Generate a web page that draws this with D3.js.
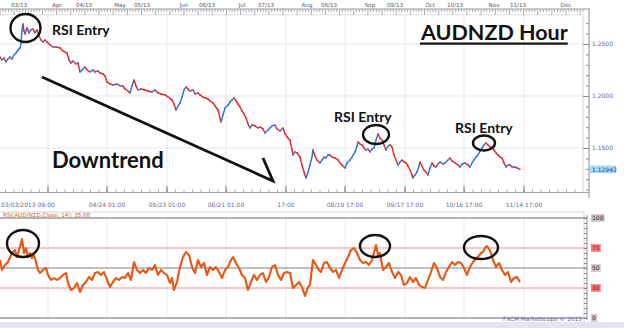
<!DOCTYPE html>
<html>
<head>
<meta charset="utf-8">
<script src="https://cdnjs.cloudflare.com/ajax/libs/d3/7.8.5/d3.min.js"></script>
<style>
    body { margin: 0; background: #fff; }
    svg { display: block; }
    .small { font-family: "DejaVu Sans", sans-serif; }
    .note { font-family: Lato, "Open Sans", sans-serif; font-weight: 700; fill: #111; }
</style>
</head>
<body>
<svg id="Chart_svg" width="624" height="328"></svg>
<script>
// hourly AUDNZD, t = session index along the time axis
var price = [
    [0, 1.2375], [1, 1.2346], [2, 1.2365], [3, 1.2327], [4, 1.2356], [5, 1.2375], [6, 1.2356], [7, 1.2394],
    [8, 1.2413], [9, 1.2442], [10, 1.2462], [10.5, 1.2500], [11, 1.2635], [11.5, 1.2692], [12, 1.2625], [12.5, 1.2596],
    [13.5, 1.2654], [14.5, 1.2606], [15.5, 1.2635], [16.5, 1.2644], [17.5, 1.2606], [18.5, 1.2635], [19.5, 1.2577],
    [20.5, 1.2538], [21.5, 1.2519], [22.5, 1.2538], [23.5, 1.2519], [25, 1.2490], [26.5, 1.2471], [28, 1.2471],
    [30, 1.2462], [31.5, 1.2433], [33.5, 1.2413], [34.5, 1.2346], [35.5, 1.2317], [36.5, 1.2336], [38, 1.2308],
    [39, 1.2317], [40, 1.2231], [41, 1.2250], [42.5, 1.2279], [43.5, 1.2250], [45, 1.2231], [46.5, 1.2250],
    [47.5, 1.2231], [49, 1.2240], [50, 1.2221], [51.5, 1.2212], [52.5, 1.2192], [53.5, 1.2135], [55, 1.2115],
    [56.5, 1.2106], [58.5, 1.2115], [60, 1.2096], [61.5, 1.2096], [62.5, 1.2067], [64, 1.2048], [65, 1.2029],
    [66, 1.2096], [67, 1.2154], [68, 1.2096], [69, 1.2058], [70.5, 1.2067], [72.5, 1.2058], [74, 1.2048],
    [76, 1.2038], [77.5, 1.2058], [79, 1.2029], [80.5, 1.2019], [82.5, 1.2010], [84, 1.1990], [86, 1.1962],
    [87, 1.1923], [88, 1.1865], [89, 1.1904], [90, 1.1933], [91, 1.1990], [92, 1.2058], [93, 1.2086], [94, 1.2067],
    [95, 1.2048], [96.5, 1.2058], [97.5, 1.2019], [99, 1.2029], [100, 1.2010], [101.5, 1.1990], [102.5, 1.1981],
    [104, 1.1971], [105, 1.1952], [106.5, 1.1933], [107.5, 1.1904], [109, 1.1865], [110.5, 1.1750], [111.5, 1.1817],
    [112.5, 1.1885], [114, 1.1913], [115, 1.1942], [116, 1.1962], [117, 1.1981], [118, 1.1952], [119, 1.1923],
    [120, 1.1894], [121, 1.1856], [122, 1.1827], [123, 1.1788], [124, 1.1731], [125, 1.1692], [126, 1.1721],
    [127.5, 1.1712], [129, 1.1692], [130, 1.1702], [131.5, 1.1683], [132.5, 1.1644], [134, 1.1673], [135, 1.1692],
    [136, 1.1712], [137.5, 1.1721], [138.5, 1.1683], [140, 1.1663], [141.5, 1.1692], [142.5, 1.1635], [144, 1.1596],
    [145, 1.1577], [146, 1.1481], [146.5, 1.1433], [147.5, 1.1462], [148.5, 1.1452], [150, 1.1413], [151, 1.1337],
    [152, 1.1269], [153, 1.1212], [154, 1.1269], [155, 1.1337], [156, 1.1413], [156.5, 1.1481], [157.5, 1.1423],
    [158.5, 1.1385], [160, 1.1356], [161, 1.1385], [162, 1.1413], [163, 1.1404], [164, 1.1433], [165, 1.1433],
    [166, 1.1413], [167.5, 1.1404], [169, 1.1385], [170, 1.1356], [171, 1.1337], [172.5, 1.1308], [173.5, 1.1356],
    [175, 1.1385], [176, 1.1413], [177.5, 1.1462], [178.5, 1.1519], [179, 1.1558], [180, 1.1538], [181, 1.1529],
    [182, 1.1500], [183, 1.1481], [184, 1.1490], [185, 1.1462], [186, 1.1490], [187, 1.1500], [188, 1.1577],
    [189, 1.1635], [190, 1.1596], [191, 1.1577], [192, 1.1529], [193, 1.1481], [194, 1.1519], [195, 1.1529],
    [196, 1.1510], [197, 1.1433], [198, 1.1385], [199, 1.1337], [200, 1.1365], [201, 1.1385], [202, 1.1365],
    [203, 1.1356], [204, 1.1327], [205, 1.1288], [206, 1.1240], [206.5, 1.1212], [207.5, 1.1240], [208.5, 1.1269],
    [209.5, 1.1327], [210, 1.1365], [211, 1.1327], [212, 1.1288], [213, 1.1269], [214, 1.1240], [215, 1.1308],
    [216, 1.1356], [217, 1.1327], [218, 1.1317], [219, 1.1346], [220, 1.1365], [221.5, 1.1346], [222.5, 1.1356],
    [224, 1.1385], [225, 1.1404], [226, 1.1375], [227.5, 1.1356], [229, 1.1337], [230, 1.1317], [231, 1.1346],
    [232.5, 1.1356], [234, 1.1337], [235, 1.1317], [236, 1.1356], [237, 1.1385], [238, 1.1413], [239, 1.1433],
    [240, 1.1471], [241, 1.1500], [242, 1.1529], [243, 1.1548], [244, 1.1529], [245, 1.1510], [246, 1.1500],
    [247, 1.1481], [248, 1.1452], [249, 1.1433], [250, 1.1413], [251, 1.1404], [252, 1.1356], [253, 1.1317],
    [254, 1.1337], [255, 1.1337], [256, 1.1317], [257.5, 1.1317], [258.5, 1.1308], [260, 1.12943]
];

var rsi = [
    [0, 58], [1, 48], [2.5, 53], [4, 56], [6, 65], [7.5, 68], [8.5, 61], [9.5, 68], [11, 79], [12, 65], [13, 70],
    [14, 61], [15, 65], [16, 60], [17, 63], [18, 56], [19, 48], [20, 45], [21.5, 48], [23, 50], [24, 43], [25.5, 38],
    [27, 40], [28.5, 38], [30, 40], [31.5, 43], [33, 45], [34, 35], [35.5, 28], [37, 30], [38.5, 35], [40, 26],
    [41.5, 33], [43, 36], [44.5, 41], [46, 38], [47.5, 45], [49, 46], [50.5, 43], [52, 46], [53.5, 38], [55, 31],
    [56.5, 36], [58, 40], [59.5, 38], [61, 41], [62.5, 40], [64, 45], [65.5, 38], [67, 56], [68.5, 48], [70, 45],
    [71.5, 48], [73, 45], [74.5, 50], [76, 48], [77.5, 53], [79, 43], [80.5, 48], [82, 45], [83.5, 43], [85, 35],
    [86, 40], [87, 28], [88.5, 36], [90, 51], [91.5, 61], [93, 66], [94.5, 63], [96, 51], [97.5, 45], [99, 58],
    [100.5, 51], [102, 55], [103.5, 43], [105, 51], [106.5, 48], [108, 51], [109.5, 46], [111, 40], [112.5, 48],
    [114, 51], [115.5, 58], [116.5, 61], [118, 55], [119.5, 50], [121, 43], [122.5, 40], [124, 28], [125.5, 36],
    [127, 43], [128.5, 38], [130, 43], [131.5, 45], [133, 36], [134.5, 41], [136, 51], [137.5, 53], [139, 43],
    [140.5, 38], [142, 45], [143.5, 46], [145, 45], [146.5, 30], [148, 33], [149.5, 36], [151, 31], [152.5, 22],
    [154, 31], [155, 33], [156.5, 58], [158, 53], [159.5, 48], [160.5, 46], [162, 55], [163.5, 56], [165, 50],
    [166.5, 46], [168, 48], [169.5, 40], [171, 48], [172.5, 55], [174, 61], [175.5, 68], [177, 70], [178.5, 65],
    [180, 58], [181.5, 55], [183, 56], [184.5, 53], [186, 58], [187, 65], [188, 73], [189, 63], [190, 65],
    [191.5, 48], [193, 51], [194.5, 55], [196, 46], [197.5, 40], [199, 46], [200.5, 43], [202, 33], [203.5, 35],
    [205, 41], [206.5, 36], [208, 40], [209.5, 33], [211, 31], [212.5, 30], [214, 38], [215.5, 46], [217, 55],
    [218.5, 50], [220, 41], [221.5, 38], [223, 46], [224.5, 51], [226, 56], [227.5, 53], [229, 56], [230.5, 55],
    [232, 50], [233.5, 43], [235, 51], [236.5, 56], [238, 60], [239, 61], [240.5, 65], [241.5, 66], [242.5, 70],
    [243.5, 72], [244.5, 69], [245.5, 65], [246.5, 58], [248, 51], [249.5, 55], [251, 48], [252.5, 43], [254, 46],
    [255.5, 36], [257, 40], [258.5, 41], [260, 35.68]
];

var gridTimes = [24, 53.5, 83.5, 113, 143, 172.5, 202.5, 232, 262];
var bottomLabels = ["", "04/24 01:00", "05/23 01:00", "06/21 01:00", "17:00", "08/19 17:00", "09/17 17:00", "10/16 17:00", "11/14 17:00"];
var firstLabel = "03/03/2013 09:00";
var topTimes = [9.5, 28.5, 42, 60, 71, 92, 103.5, 121, 133, 153.5, 164.5, 185, 197.5, 215, 227.5, 247, 259, 283];
var topLabels = ["03/13", "Apr", "04/13", "May", "05/13", "Jun", "06/13", "Jul", "07/13", "Aug", "08/13", "Sep", "09/13", "Oct", "10/13", "Nov", "11/13", "Dec"];
var priceTicks = [1.15, 1.20, 1.25];
var rsiLevels = [100, 70, 50, 30, 0];
var lastPrice = 1.12943;
var rsiTitle = "RSI(AUD/NZD,Close, 14): 35.68";

var svg = d3.select("#Chart_svg"),
    plotRight = 583,
    axisX = 589;

var x = d3.scaleLinear().domain([0, 291.5]).range([0, plotRight]),
    yPrice = d3.scaleLinear().domain([1.1077, 1.2788]).range([192, 14]),
    yRsi = d3.scaleLinear().domain([0, 100]).range([318, 218]);

// frame
svg.append("rect").attr("x", 0).attr("y", 322).attr("width", 624).attr("height", 6).attr("fill", "#e4e4f0");
svg.append("line").attr("x1", plotRight).attr("x2", plotRight).attr("y1", 15).attr("y2", 193).attr("stroke", "#d4d4dc");
svg.append("line").attr("x1", 0).attr("x2", plotRight).attr("y1", 15).attr("y2", 15).attr("stroke", "#e2e2e8");
svg.append("path").attr("d", "M0,212H" + (plotRight + 1) + "V322").attr("fill", "none").attr("stroke", "#d0d0da");

// grid
svg.selectAll(".vgrid").data(gridTimes).enter().append("path")
    .attr("class", "vgrid")
    .attr("d", function (d) { return "M" + x(d) + ",15V192M" + x(d) + ",218V318"; })
    .attr("stroke", "#e8e8ec");

svg.selectAll(".hgrid").data(priceTicks).enter().append("line")
    .attr("x1", 0).attr("x2", plotRight)
    .attr("y1", function (d) { return yPrice(d); })
    .attr("y2", function (d) { return yPrice(d); })
    .attr("stroke", "#e8e8ec");

// top time axis
svg.append("line").attr("x1", 0).attr("x2", axisX + 1).attr("y1", 9).attr("y2", 9).attr("stroke", "#9a9aa4");
svg.selectAll(".ttick").data(d3.range(0, 291.5, 1.415)).enter().append("line")
    .attr("x1", function (d) { return x(d); })
    .attr("x2", function (d) { return x(d); })
    .attr("y1", 9)
    .attr("y2", function (d, i) { return i % 5 === 0 ? 15 : 12; })
    .attr("stroke", "#8a8a94").attr("stroke-width", 0.7);
svg.selectAll(".tlab").data(topLabels).enter().append("text")
    .attr("class", "small")
    .attr("x", function (d, i) { return x(topTimes[i]); })
    .attr("y", 6.5)
    .attr("text-anchor", "middle")
    .style("font-size", "5.6px")
    .attr("fill", "#555566")
    .text(function (d) { return d; });

// bottom time axis of price panel
svg.append("line").attr("x1", 0).attr("x2", axisX).attr("y1", 192.5).attr("y2", 192.5).attr("stroke", "#a0a0aa");
svg.selectAll(".btick").data(d3.range(2.75, 291.5, 4.25)).enter().append("line")
    .attr("x1", function (d) { return x(d); })
    .attr("x2", function (d) { return x(d); })
    .attr("y1", 192).attr("y2", 189.5)
    .attr("stroke", "#8a8a94").attr("stroke-width", 0.7);
svg.selectAll(".bmajor").data(gridTimes).enter().append("line")
    .attr("x1", function (d) { return x(d); })
    .attr("x2", function (d) { return x(d); })
    .attr("y1", 192).attr("y2", 186)
    .attr("stroke", "#77777f");
svg.selectAll(".blab").data(bottomLabels).enter().append("text")
    .attr("class", "small")
    .attr("x", function (d, i) { return x(gridTimes[i]); })
    .attr("y", 207)
    .attr("text-anchor", "middle")
    .style("font-size", "6px")
    .attr("fill", "#6a6a8c")
    .text(function (d) { return d; });
svg.append("text").attr("class", "small")
    .attr("x", x(0) + 1).attr("y", 207)
    .style("font-size", "6px").attr("fill", "#6a6a8c")
    .text(firstLabel);

// right price axis
var priceAxis = svg.append("g").attr("transform", "translate(" + axisX + ",0)");
priceAxis.call(d3.axisRight(yPrice).tickValues(d3.range(1.11, 1.28, 0.01)).tickSizeInner(-3).tickSizeOuter(0).tickFormat(""));
priceAxis.call(function (g) { g.select(".domain").remove(); });
priceAxis.append("line").attr("y1", 9).attr("y2", 198).attr("stroke", "#8a8a94");
priceAxis.selectAll(".tick line").attr("stroke", "#8a8a94");
var priceLabels = svg.append("g").attr("transform", "translate(" + axisX + ",0)")
    .call(d3.axisRight(yPrice).tickValues(priceTicks).tickSizeInner(-6).tickSizeOuter(0).tickPadding(3).tickFormat(d3.format(".4f")));
priceLabels.select(".domain").remove();
priceLabels.selectAll(".tick line").attr("stroke", "#8a8a94");
priceLabels.selectAll(".tick text").attr("class", "small").style("font-size", "6px").attr("fill", "#6a6a8c");

// current price marker
var cur = svg.append("g").attr("transform", "translate(" + (axisX + 1) + "," + yPrice(lastPrice) + ")");
cur.append("rect").attr("x", 0).attr("y", -3.8).attr("width", 26).attr("height", 7.6).attr("fill", "#a6dbf6");
cur.append("text").attr("class", "small").attr("x", 2).attr("dy", "0.35em")
    .style("font-size", "6px").attr("fill", "#334466").text(d3.format(".5f")(lastPrice));

// price bars as a two-colour line, blue on up moves, red on down moves
svg.selectAll(".seg").data(d3.pairs(price)).enter().append("line")
    .attr("x1", function (d) { return x(d[0][0]); })
    .attr("y1", function (d) { return yPrice(d[0][1]); })
    .attr("x2", function (d) { return x(d[1][0]); })
    .attr("y2", function (d) { return yPrice(d[1][1]); })
    .attr("stroke", function (d) { return d[1][1] >= d[0][1] ? "#2e6fd8" : "#e3232b"; })
    .attr("stroke-width", 1.4)
    .attr("stroke-linecap", "round");

// RSI panel
svg.append("text").attr("class", "small")
    .attr("x", 3).attr("y", 216.5)
    .style("font-size", "5.6px").attr("fill", "#e0602e")
    .text(rsiTitle);

svg.selectAll(".level").data(rsiLevels).enter().append("line")
    .attr("x1", 0).attr("x2", axisX - 2)
    .attr("y1", function (d) { return yRsi(d); })
    .attr("y2", function (d) { return yRsi(d); })
    .attr("stroke", function (d) { return d === 70 || d === 30 ? "#f6b4b4" : (d === 50 ? "#808088" : "#9a9aa2"); })
    .attr("stroke-width", function (d) { return d === 0 ? 1.6 : (d === 50 ? 1 : 1.4); });

var rsiLine = d3.line()
    .x(function (d) { return x(d[0]); })
    .y(function (d) { return yRsi(d[1]); });

svg.append("path")
    .datum(rsi)
    .attr("d", rsiLine)
    .attr("fill", "none")
    .attr("stroke", "#e8560f")
    .attr("stroke-width", 2.1)
    .attr("stroke-linejoin", "round");

var rsiAxis = svg.append("g").attr("transform", "translate(" + (axisX - 2) + ",0)")
    .call(d3.axisRight(yRsi).tickValues(d3.range(0, 101, 5)).tickSizeInner(-3).tickSizeOuter(0).tickFormat(""));
rsiAxis.select(".domain").remove();
rsiAxis.selectAll(".tick line").attr("stroke", "#8a8a94");
rsiAxis.append("line").attr("y1", 215).attr("y2", 320).attr("stroke", "#8a8a94");

var lvl = svg.selectAll(".lvlLab").data(rsiLevels).enter().append("g")
    .attr("transform", function (d) { return "translate(" + (axisX + 2) + "," + yRsi(d) + ")"; });
lvl.append("rect")
    .attr("x", 0).attr("y", -3.8)
    .attr("width", function (d) { return String(d).length * 3.9 + 2; })
    .attr("height", 7.6)
    .attr("fill", function (d) { return d === 70 || d === 30 ? "#f77b7b" : "#c6c6cc"; });
lvl.append("text").attr("class", "small")
    .attr("x", 1).attr("dy", "0.35em")
    .style("font-size", "6px")
    .attr("fill", function (d) { return d === 70 || d === 30 ? "#8a1010" : "#333"; })
    .text(function (d) { return d; });

svg.append("text").attr("class", "small")
    .attr("x", plotRight - 1).attr("y", 321)
    .attr("text-anchor", "end")
    .style("font-size", "5.8px").attr("fill", "#6a6a8c")
    .text("FXCM Marketscope \u00a9 2013");

// annotations drawn over the chart
var priceRings = [
    { t: 12.75, v: 1.2654, rx: 15, ry: 14 },
    { t: 188, v: 1.1629, rx: 13, ry: 9.5 },
    { t: 242, v: 1.1548, rx: 11, ry: 7.5 }
];
var rsiRings = [
    { t: 11.5, v: 74.5, rx: 16, ry: 13.5 },
    { t: 187.5, v: 72, rx: 15, ry: 11 },
    { t: 240.5, v: 70.5, rx: 17, ry: 11.5 }
];
var notes = [
    { t: 26, v: 1.2587, text: "RSI Entry", size: 14 },
    { t: 167, v: 1.1750, text: "RSI Entry", size: 14 },
    { t: 227.5, v: 1.1644, text: "RSI Entry", size: 14 },
    { t: 26, v: 1.1308, text: "Downtrend", size: 22 },
    { t: 210.5, v: 1.2538, text: "AUDNZD Hour", size: 21.5 }
];

svg.selectAll(".pring").data(priceRings).enter().append("ellipse")
    .attr("cx", function (d) { return x(d.t); })
    .attr("cy", function (d) { return yPrice(d.v); })
    .attr("rx", function (d) { return d.rx; })
    .attr("ry", function (d) { return d.ry; })
    .attr("fill", "none").attr("stroke", "#111").attr("stroke-width", 2.4);
svg.selectAll(".rring").data(rsiRings).enter().append("ellipse")
    .attr("cx", function (d) { return x(d.t); })
    .attr("cy", function (d) { return yRsi(d.v); })
    .attr("rx", function (d) { return d.rx; })
    .attr("ry", function (d) { return d.ry; })
    .attr("fill", "none").attr("stroke", "#111").attr("stroke-width", 2.4);

svg.selectAll(".note").data(notes).enter().append("text")
    .attr("class", "note")
    .attr("x", function (d) { return x(d.t); })
    .attr("y", function (d) { return yPrice(d.v); })
    .style("font-size", function (d) { return d.size + "px"; })
    .text(function (d) { return d.text; });

// underline under the title
var title = svg.selectAll(".note").filter(function (d) { return d.text === "AUDNZD Hour"; }).node().getBBox();
svg.append("rect").attr("x", title.x).attr("y", yPrice(1.2538) + 2.5)
    .attr("width", title.width).attr("height", 2.2).attr("fill", "#111");

// downtrend arrow with a single barb
svg.append("path")
    .attr("d", "M" + x(21) + "," + yPrice(1.2183) + "L" + x(136.5) + "," + yPrice(1.1183) + "L" + x(131.5) + "," + yPrice(1.1404))
    .attr("fill", "none").attr("stroke", "#111").attr("stroke-width", 2.8).attr("stroke-linejoin", "miter");
</script>
</body>
</html>
